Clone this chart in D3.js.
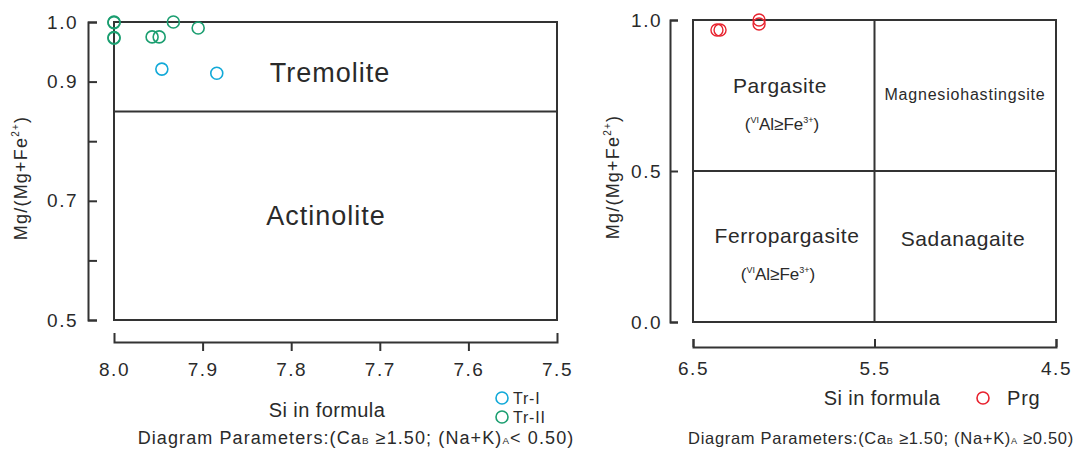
<!DOCTYPE html>
<html>
<head>
<meta charset="utf-8">
<script src="https://cdn.jsdelivr.net/npm/d3@7"></script>
<style>
  body { margin: 0; background: #fff; }
  svg { font-family: "Liberation Sans", Arial, sans-serif; }
  .axis path, .axis line { stroke: #333; stroke-width: 2; }
  .axis text { fill: #2a2a2a; font-size: 19px; letter-spacing: 1.5px; }
</style>
</head>
<body>
<div id="chart"></div>
<script>
const w = 1075;
const h = 450;

// left panel: (CaB >= 1.50; (Na+K)A < 0.50)
const trI_si = [7.946, 7.884];
const trI_mg = [0.921, 0.914];
const trII_si = [8.0, 8.0, 8.0, 8.0, 7.957, 7.949, 7.933, 7.905];
const trII_mg = [1.0, 0.999, 0.974, 0.973, 0.975, 0.975, 1.0, 0.99];
const leftXTicks = [8.0, 7.9, 7.8, 7.7, 7.6, 7.5];
const leftYTicks = [1.0, 0.9, 0.8, 0.7, 0.6, 0.5];
const leftYLabels = ["1.0", "0.9", "", "0.7", "", "0.5"];
const leftBoundary = 0.85;

// right panel: (CaB >= 1.50; (Na+K)A >= 0.50)
const prg_si = [6.368, 6.351, 6.136, 6.136];
const prg_mg = [0.967, 0.967, 1.0, 0.987];
const rightXTicks = [6.5, 5.5, 4.5];
const rightYTicks = [1.0, 0.5, 0.0];

const colTrI = "#12a9d8";
const colTrII = "#1b9e70";
const colPrg = "#e8222e";
const ink = "#2a2a2a";

const svg = d3.select("#chart").append("svg")
              .attr("width", w)
              .attr("height", h);

// ---------- left panel ----------
const xL = d3.scaleLinear().domain([8.0, 7.5]).range([114, 557]);
const yL = d3.scaleLinear().domain([0.5, 1.0]).range([320, 22]);

svg.append("rect")
   .attr("x", xL(8.0)).attr("y", yL(1.0))
   .attr("width", xL(7.5) - xL(8.0)).attr("height", yL(0.5) - yL(1.0))
   .attr("fill", "none").attr("stroke", "#333").attr("stroke-width", 2);

svg.append("line")
   .attr("x1", xL(8.0)).attr("x2", xL(7.5))
   .attr("y1", yL(leftBoundary)).attr("y2", yL(leftBoundary))
   .attr("stroke", "#333").attr("stroke-width", 2);

svg.append("g").attr("class", "axis")
   .attr("transform", "translate(88,0)")
   .call(d3.axisLeft(yL).tickValues(leftYTicks)
           .tickFormat((d, i) => leftYLabels[i])
           .tickSize(-9).tickPadding(10));

const xAxisL = svg.append("g").attr("class", "axis")
   .attr("transform", "translate(0,342)")
   .call(d3.axisBottom(xL).tickValues(leftXTicks)
           .tickFormat(d3.format(".1f"))
           .tickSizeInner(9).tickSizeOuter(-9).tickPadding(12));
xAxisL.selectAll(".tick line").filter(d => d === 8.0 || d === 7.5).remove();

svg.append("text").text("Tremolite")
   .attr("x", 330).attr("y", 82).attr("text-anchor", "middle")
   .attr("font-size", 27).attr("letter-spacing", 1).attr("fill", ink);
svg.append("text").text("Actinolite")
   .attr("x", 326).attr("y", 225).attr("text-anchor", "middle")
   .attr("font-size", 27).attr("letter-spacing", 1).attr("fill", ink);

svg.selectAll("circle.tr2")
   .data(d3.zip(trII_si, trII_mg))
   .enter().append("circle").attr("class", "tr2")
   .attr("cx", d => xL(d[0])).attr("cy", d => yL(d[1]))
   .attr("r", 6).attr("fill", "none")
   .attr("stroke", colTrII).attr("stroke-width", 1.6);

svg.selectAll("circle.tr1")
   .data(d3.zip(trI_si, trI_mg))
   .enter().append("circle").attr("class", "tr1")
   .attr("cx", d => xL(d[0])).attr("cy", d => yL(d[1]))
   .attr("r", 6).attr("fill", "none")
   .attr("stroke", colTrI).attr("stroke-width", 1.6);

// ---------- right panel ----------
const xR = d3.scaleLinear().domain([6.5, 4.5]).range([693, 1056]);
const yR = d3.scaleLinear().domain([0, 1]).range([322, 20]);

svg.append("rect")
   .attr("x", xR(6.5)).attr("y", yR(1))
   .attr("width", xR(4.5) - xR(6.5)).attr("height", yR(0) - yR(1))
   .attr("fill", "none").attr("stroke", "#333").attr("stroke-width", 2);
svg.append("line")
   .attr("x1", xR(5.5)).attr("x2", xR(5.5)).attr("y1", yR(1)).attr("y2", yR(0))
   .attr("stroke", "#333").attr("stroke-width", 2);
svg.append("line")
   .attr("x1", xR(6.5)).attr("x2", xR(4.5)).attr("y1", yR(0.5)).attr("y2", yR(0.5))
   .attr("stroke", "#333").attr("stroke-width", 2);

svg.append("g").attr("class", "axis")
   .attr("transform", "translate(670,0)")
   .call(d3.axisLeft(yR).tickValues(rightYTicks)
           .tickFormat(d3.format(".1f"))
           .tickSize(-8).tickPadding(8));

svg.append("g").attr("class", "axis")
   .attr("transform", "translate(0,347)")
   .call(d3.axisBottom(xR).tickValues(rightXTicks)
           .tickFormat(d3.format(".1f"))
           .tickSize(-8).tickPadding(15));

svg.selectAll("circle.prg")
   .data(d3.zip(prg_si, prg_mg))
   .enter().append("circle").attr("class", "prg")
   .attr("cx", d => xR(d[0])).attr("cy", d => yR(d[1]))
   .attr("r", 6).attr("fill", "none")
   .attr("stroke", colPrg).attr("stroke-width", 1.4);

const region = (txt, x, y, size, ls) =>
   svg.append("text").text(txt)
      .attr("x", x).attr("y", y).attr("text-anchor", "middle")
      .attr("font-size", size).attr("letter-spacing", ls).attr("fill", ink);

region("Pargasite", 780, 93, 21, 0.6);
region("Magnesiohastingsite", 965, 100, 16, 0.8);
region("Ferropargasite", 787, 243, 21, 0.6);
region("Sadanagaite", 963, 246, 21, 0.6);

const viAl = (x, y) => {
   const t = svg.append("text").attr("x", x).attr("y", y)
      .attr("text-anchor", "middle").attr("font-size", 17).attr("fill", ink);
   t.append("tspan").text("(");
   t.append("tspan").text("VI").attr("font-size", 9).attr("dy", -7);
   t.append("tspan").text("Al≥Fe").attr("dy", 7);
   t.append("tspan").text("3+").attr("font-size", 9).attr("dy", -7);
   t.append("tspan").text(")").attr("dy", 7);
};
viAl(782, 130);
viAl(778, 280);

// ---------- axis titles, legends, notes ----------
const yTitle = (x, y) => {
   const t = svg.append("text")
      .attr("transform", `translate(${x},${y}) rotate(-90)`)
      .attr("text-anchor", "middle").attr("font-size", 18)
      .attr("letter-spacing", 1.2).attr("fill", ink);
   t.append("tspan").text("Mg/(Mg+Fe");
   t.append("tspan").text("2+").attr("font-size", 10).attr("dy", -8);
   t.append("tspan").text(")").attr("dy", 8);
};
yTitle(27, 178);
yTitle(619, 177);

svg.append("text").text("Si in formula")
   .attr("x", 327).attr("y", 417).attr("text-anchor", "middle")
   .attr("font-size", 20).attr("letter-spacing", 0.4).attr("fill", ink);
svg.append("text").text("Si in formula")
   .attr("x", 882).attr("y", 405).attr("text-anchor", "middle")
   .attr("font-size", 20).attr("letter-spacing", 0.4).attr("fill", ink);

const legend = [["Tr-I", colTrI, 502, 398, 16], ["Tr-II", colTrII, 502, 417, 16], ["Prg", colPrg, 983, 398, 20]];
legend.forEach(([name, col, x, y, fs]) => {
   svg.append("circle").attr("cx", x).attr("cy", y).attr("r", 6)
      .attr("fill", "none").attr("stroke", col).attr("stroke-width", 1.6);
   svg.append("text").text(name).attr("x", x + (fs > 16 ? 24 : 11)).attr("y", y + fs * 0.36)
      .attr("font-size", fs).attr("letter-spacing", 0.8).attr("fill", ink);
});

const note = (x, y, sign, fs, ls) => {
   const t = svg.append("text").attr("x", x).attr("y", y)
      .attr("text-anchor", "middle").attr("font-size", fs)
      .attr("letter-spacing", ls).attr("fill", ink);
   t.append("tspan").text("Diagram Parameters:(Ca");
   t.append("tspan").text("B").attr("font-size", fs * 0.55);
   t.append("tspan").text(" ≥1.50; (Na+K)");
   t.append("tspan").text("A").attr("font-size", fs * 0.55);
   t.append("tspan").text(sign);
};
note(356, 444, "< 0.50)", 18, 1.1);
note(881, 444, " ≥0.50)", 16.5, 0.7);
</script>
</body>
</html>
